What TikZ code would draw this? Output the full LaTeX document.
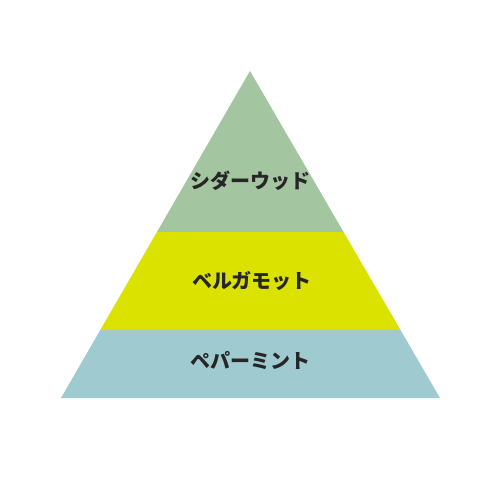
\documentclass[tikz,border=0pt]{standalone}
\usepackage{fontspec}
\newfontfamily\cjk{Noto Sans CJK JP}
\definecolor{topgreen}{HTML}{A3C5A0}
\definecolor{midyellow}{HTML}{DCE200}
\definecolor{lowblue}{HTML}{9FCBD0}
\begin{document}
\begin{tikzpicture}[x=1pt,y=-1pt,
  lbl/.style={font=\cjk\bfseries\fontsize{20}{20}\selectfont, text=black!85, inner sep=0pt}]
\useasboundingbox (0,0) rectangle (500,500);
\fill[white] (0,0) rectangle (500,500);
\coordinate (apex) at (250,71);
\coordinate (bl) at (61,398);
\coordinate (br) at (440,398);
\begin{scope}
\clip (apex) -- (br) -- (bl) -- cycle;
\fill[topgreen] (0,60) rectangle (500,232);
\fill[midyellow] (0,232) rectangle (500,330);
\fill[lowblue] (0,330) rectangle (500,400);
\end{scope}
\node[lbl] (t) at (250,181) {シダーウッド};
\node[lbl] (m) at (252,281) {ベルガモット};
\node[lbl] (b) at (250,361) {ペパーミント};
\end{tikzpicture}
\end{document}
